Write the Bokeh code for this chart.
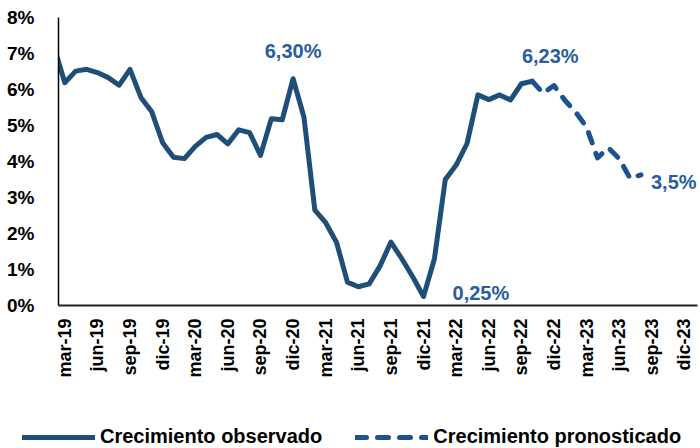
from math import pi
from bokeh.plotting import figure
from bokeh.models import (Range1d, FixedTicker, ColumnDataSource, Legend, LegendItem)
from bokeh.core.properties import value
from bokeh.embed import file_html
from bokeh.resources import INLINE

# ---- data (month index: 0 = mar-19) ----
obs_month = [-1, 0, 1, 2, 3, 4, 5, 6, 7, 8, 9, 10, 11, 12, 13, 14, 15, 16, 17, 18, 19, 20,
             21, 22, 23, 24, 25, 26, 27, 28, 29, 30, 31, 32, 33, 34, 35, 36, 37, 38, 39, 40,
             41, 42, 43]
obs_growth = [7.20, 6.19, 6.51, 6.56, 6.47, 6.33, 6.12, 6.56, 5.78, 5.38, 4.52, 4.12, 4.08,
              4.42, 4.67, 4.75, 4.49, 4.88, 4.80, 4.17, 5.19, 5.16, 6.30, 5.23, 2.65, 2.30,
              1.75, 0.65, 0.52, 0.60, 1.10, 1.76, 1.30, 0.80, 0.25, 1.30, 3.50, 3.90, 4.50,
              5.85, 5.72, 5.85, 5.71, 6.16, 6.23]

fc_month = [43, 44, 45, 46, 47, 48, 49, 50, 51, 52, 53]
fc_growth = [6.23, 5.90, 6.11, 5.70, 5.37, 4.95, 4.10, 4.38, 4.08, 3.53, 3.63]

tick_month = [0, 3, 6, 9, 12, 15, 18, 21, 24, 27, 30, 33, 36, 39, 42, 45, 48, 51, 54, 57]
tick_labels = ["mar-19", "jun-19", "sep-19", "dic-19", "mar-20", "jun-20", "sep-20", "dic-20",
               "mar-21", "jun-21", "sep-21", "dic-21", "mar-22", "jun-22", "sep-22", "dic-22",
               "mar-23", "jun-23", "sep-23", "dic-23"]

y_ticks = [0, 1, 2, 3, 4, 5, 6, 7, 8]
y_tick_labels = ["0%", "1%", "2%", "3%", "4%", "5%", "6%", "7%", "8%"]

label_month = [21, 43, 33, 53]
label_value = [6.30, 6.23, 0.25, 3.63]
label_text = ["6,30%", "6,23%", "0,25%", "3,5%"]

series_names = ["Crecimiento observado", "Crecimiento pronosticado"]

# ---- styling ----
FONT = "Liberation Sans"
OBS_COLOR = "#1f4e79"
FC_COLOR = "#1c5194"
LABEL_COLOR = "#2a5ca0"
label_dx = [0, 18, 29, 10]
label_dy = [-28, -25, -4, 7]
label_align = ["center", "center", "left", "left"]
OBS_STYLE = dict(line_color=OBS_COLOR, line_width=5, line_join="round", line_cap="round")
FC_STYLE = dict(line_color=FC_COLOR, line_width=5, line_dash="11 11",
                line_join="round", line_cap="round")

p = figure(width=700, height=404, output_backend="svg", toolbar_location=None,
           x_range=Range1d(-0.58, 58.2), y_range=Range1d(0, 8),
           min_border_left=58, min_border_right=3, min_border_top=17, min_border_bottom=99)
p.outline_line_color = None
p.xgrid.visible = False
p.ygrid.visible = False

r_obs = p.line(obs_month, obs_growth, **OBS_STYLE)
r_fc = p.line(fc_month, fc_growth, **FC_STYLE)

src = ColumnDataSource(dict(x=label_month, y=label_value,
                            text=label_text, dx=label_dx, dy=label_dy, align=label_align))
p.text(x="x", y="y", text="text", x_offset="dx", y_offset="dy", text_align="align",
       text_baseline="middle", source=src, text_color=LABEL_COLOR,
       text_font=value(FONT), text_font_style="bold", text_font_size="20px")

# axes
xa = p.xaxis[0]
xa.ticker = FixedTicker(ticks=tick_month)
xa.major_label_overrides = {m: lab for m, lab in zip(tick_month, tick_labels)}
xa.major_label_orientation = pi / 2
xa.major_label_text_font = FONT
xa.major_label_text_font_style = "bold"
xa.major_label_text_font_size = "18px"
xa.major_label_text_color = "black"
xa.major_label_standoff = 7
xa.major_tick_line_color = None
xa.minor_tick_line_color = None
xa.axis_line_color = "#222222"
xa.axis_line_width = 2

ya = p.yaxis[0]
ya.ticker = FixedTicker(ticks=y_ticks)
ya.major_label_overrides = {t: lab for t, lab in zip(y_ticks, y_tick_labels)}
ya.major_label_text_font = FONT
ya.major_label_text_font_style = "bold"
ya.major_label_text_font_size = "19px"
ya.major_label_text_color = "black"
ya.major_label_standoff = 18
ya.major_tick_line_color = None
ya.minor_tick_line_color = None
ya.axis_line_color = "black"
ya.axis_line_width = 1.5

# legend strip: a second small figure (series drawn out of view, legend only)
lp = figure(width=700, height=44, output_backend="svg", toolbar_location=None,
            x_range=Range1d(0, 1), y_range=Range1d(100, 101),
            x_axis_location=None, y_axis_location=None,
            min_border_left=0, min_border_right=0, min_border_top=0, min_border_bottom=0)
lp.outline_line_color = None
lp.xgrid.visible = False
lp.ygrid.visible = False
l_obs = lp.line(obs_month, obs_growth, **OBS_STYLE)
l_fc = lp.line(fc_month, fc_growth, **FC_STYLE)

legend = Legend(items=[LegendItem(label=series_names[0], renderers=[l_obs]),
                       LegendItem(label=series_names[1], renderers=[l_fc])],
                location=(22, 0), orientation="horizontal",
                glyph_width=73, glyph_height=20, label_standoff=5, padding=0,
                spacing=33, margin=0,
                label_text_font=FONT, label_text_font_style="bold",
                label_text_font_size="20px", label_text_color="black",
                border_line_alpha=0, background_fill_alpha=0)
lp.add_layout(legend)

open("out.html", "w").write(file_html([p, lp], INLINE))
